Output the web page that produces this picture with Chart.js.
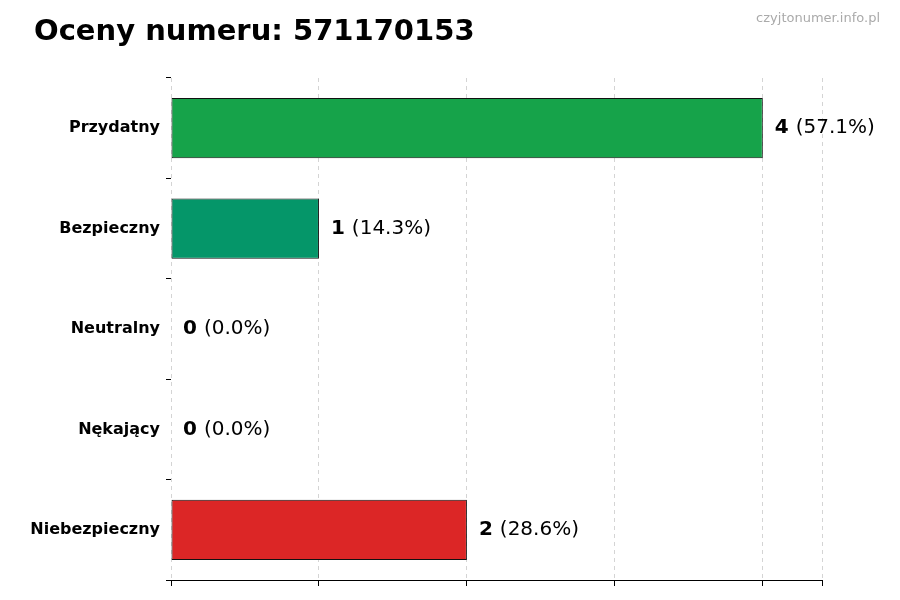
<!DOCTYPE html>
<html>
<head>
<meta charset="utf-8">
<script src="https://cdn.jsdelivr.net/npm/chart.js@4"></script>
<style>
  body { margin: 0; background: #fff; }
  #wrap { width: 900px; height: 600px; }
</style>
</head>
<body>
<div id="wrap"><canvas id="chart"></canvas></div>
<script>
const categories = ['Przydatny', 'Bezpieczny', 'Neutralny', 'Nękający', 'Niebezpieczny']
const counts = [4, 1, 0, 0, 2]
const percents = ['57.1%', '14.3%', '0.0%', '0.0%', '28.6%']
const barColors = ['#16a34a', '#059669', '#6b7280', '#f97316', '#dc2626']

const FONT = '"DejaVu Sans", sans-serif'

// value labels + title + watermark
const labelPlugin = {
  id: 'labels',
  afterDatasetsDraw(chart) {
    const ctx = chart.ctx
    const meta = chart.getDatasetMeta(0)
    ctx.save()
    ctx.textBaseline = 'middle'
    meta.data.forEach((bar, i) => {
      let x = bar.x + 12
      const y = bar.y
      ctx.fillStyle = '#000'
      ctx.font = 'bold 20px ' + FONT
      const v = String(counts[i])
      ctx.fillText(v, x, y)
      x += ctx.measureText(v).width + 7
      ctx.font = '20px ' + FONT
      ctx.fillText('(' + percents[i] + ')', x, y)
    })
    ctx.font = 'bold 29px ' + FONT
    ctx.textBaseline = 'alphabetic'
    ctx.fillText('Oceny numeru: 571170153', 34, 40)
    ctx.font = '13px ' + FONT
    ctx.fillStyle = '#aaa'
    ctx.textAlign = 'right'
    ctx.fillText('czyjtonumer.info.pl', 880, 22)
    ctx.restore()
  }
}

new Chart(document.getElementById('chart'), {
  type: 'bar',
  data: {
    labels: categories,
    datasets: [{
      data: counts,
      backgroundColor: barColors,
      borderColor: '#111',
      borderWidth: 1,
      borderSkipped: false,
      barPercentage: 0.6,
      categoryPercentage: 1
    }]
  },
  options: {
    indexAxis: 'y',
    responsive: true,
    maintainAspectRatio: false,
    animation: false,
    layout: { padding: { top: 78, right: 78, bottom: 0, left: 0 } },
    plugins: { legend: { display: false }, tooltip: { enabled: false } },
    scales: {
      x: {
        min: 0,
        max: 4.4,
        afterFit: (s) => { s.height = 20 },
        ticks: { stepSize: 1, display: true, color: 'rgba(0,0,0,0)', font: { size: 1 } },
        grid: {
          color: '#d4d4d4',
          tickColor: '#000',
          tickLength: 6,
          drawTicks: true
        },
        border: { display: true, color: '#000', dash: [4, 4] }
      },
      y: {
        afterFit: (s) => { s.width = 171 },
        ticks: { color: '#000', font: { family: FONT, size: 16, weight: 'bold' }, padding: 6 },
        grid: { drawOnChartArea: false, tickColor: '#000', tickLength: 5 },
        border: { display: false }
      }
    }
  },
  plugins: [labelPlugin]
})
</script>
</body>
</html>
